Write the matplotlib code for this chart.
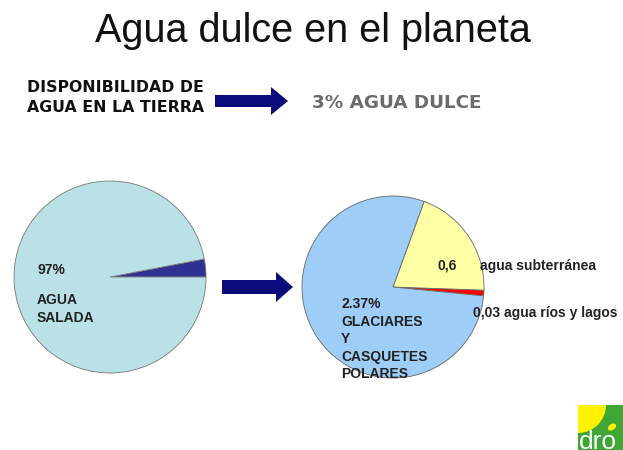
import matplotlib.pyplot as plt
from matplotlib.patches import FancyArrow, Rectangle, Wedge, Ellipse

plt.rcParams['font.family'] = ['Liberation Sans', 'DejaVu Sans']

W, H = 623, 450

# datos
total_values = [3, 97]                # % agua dulce / salada
total_colors = ['#2E3192', '#B9E1E6']
dulce_values = [0.03, 0.6, 2.37]     # rios y lagos / subterranea / glaciares
dulce_colors = ['#FF0000', '#FFFFA6', '#9ECDF8']


def pie_axes(fig, cx, cy, r):
    # ejes cuadrados centrados en un punto en pixeles
    ax = fig.add_axes([(cx - r) / W, (H - cy - r) / H, 2 * r / W, 2 * r / H])
    ax.axis('off')
    return ax


def fix_limits(ax):
    ax.set_xlim(-1, 1)
    ax.set_ylim(-1, 1)


fig = plt.figure(figsize=(W / 100, H / 100), dpi=100)
fig.patch.set_facecolor('white')

ax1 = pie_axes(fig, 110, 277, 96)
ax1.pie(total_values, colors=total_colors, startangle=0, radius=1,
        wedgeprops=dict(edgecolor='#777777', linewidth=0.6))
fix_limits(ax1)

ax2 = pie_axes(fig, 393, 287, 91)
ax2.pie(dulce_values, colors=dulce_colors, startangle=-5.6, radius=1,
        wedgeprops=dict(edgecolor='#666666', linewidth=0.6))
fix_limits(ax2)

# capa de texto y flechas en pixeles
ov = fig.add_axes([0, 0, 1, 1])
ov.set_xlim(0, W)
ov.set_ylim(H, 0)
ov.axis('off')
ov.patch.set_alpha(0)

ov.text(313, 42, 'Agua dulce en el planeta', fontsize=28.5, ha='center',
        va='baseline', color='#111111')

heavy = dict(family=['DejaVu Sans'], fontweight='bold', va='baseline')
ov.text(27, 92, 'DISPONIBILIDAD DE', fontsize=11.3, color='#111111', **heavy)
ov.text(27, 112, 'AGUA EN LA TIERRA', fontsize=11.3, color='#111111', **heavy)
ov.text(312, 108, '3% AGUA DULCE', fontsize=13.2, color='#6B6B6B', **heavy)

ov.add_patch(FancyArrow(215, 101, 73, 0, width=12, head_width=28, head_length=17,
                        length_includes_head=True, color='#0A0A78', lw=0))
ov.add_patch(FancyArrow(222, 287, 71, 0, width=14, head_width=30, head_length=17,
                        length_includes_head=True, color='#0A0A78', lw=0))

lab = dict(fontsize=10, fontweight='bold', color='#222222', va='baseline')
ov.text(37, 274, '97%', **lab)
ov.text(37, 304, 'AGUA', **lab)
ov.text(37, 322, 'SALADA', **lab)

ov.text(437, 270, '0,6', **lab)
ov.text(480, 270, 'agua subterránea', **lab)
ov.text(473, 317, '0,03 agua ríos y lagos', **lab)
for i, s in enumerate(['2.37%', 'GLACIARES', 'Y', 'CASQUETES', 'POLARES']):
    ov.text(341, 308 + i * 17.5, s, **lab)

# logo
ov.add_patch(Rectangle((578, 405), 50, 50, color='#3FA535', lw=0))
ov.add_patch(Wedge((578, 405), 28, 0, 90, color='#FFF200', lw=0))
ov.add_patch(Ellipse((612, 427), 9, 6, angle=-35, color='#FFF200', lw=0))
ov.text(579, 449, 'dro', fontsize=19, color='white', va='baseline', clip_on=True)

fig.savefig('out.png', dpi=100)
